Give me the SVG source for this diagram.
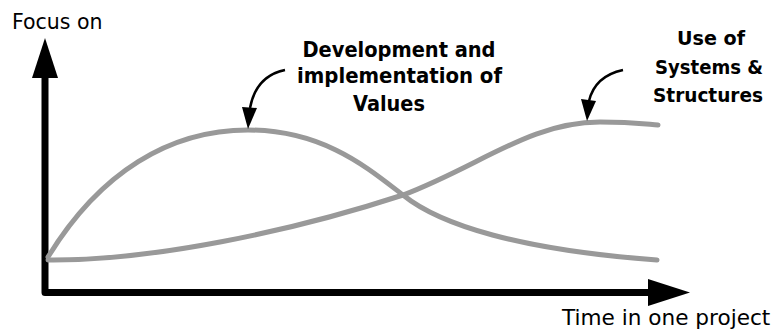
<svg xmlns="http://www.w3.org/2000/svg" width="774" height="330" viewBox="0 0 774 330">
<style>
.axis{fill:none;stroke:#000;stroke-width:7;stroke-linejoin:round}
.head{fill:#000}
.curve{fill:none;stroke:#999;stroke-width:5;stroke-linecap:round}
.pointer{fill:none;stroke:#000;stroke-width:2.5}
.lbl{font-family:"DejaVu Sans",sans-serif;fill:#000}
.bold{font-family:"DejaVu Sans",sans-serif;font-weight:bold;font-size:20.8px;fill:#000;text-anchor:middle}
.bold.r{font-size:19.4px}
</style>
<rect width="774" height="330" fill="#fff"/>
<g id="axes">
<polyline class="axis" points="45,76 45,292.5 650,292.5"/>
<polygon class="head" points="45,38 32,78 58,78"/>
<polygon class="head" points="690,292.5 648,279 648,306"/>
</g>
<g id="axis-labels">
<text class="lbl" x="12" y="29" font-size="20.5">Focus on</text>
<text class="lbl" x="562" y="325" font-size="21.6">Time in one project</text>
</g>
<g id="connectors">
<path id="curve-values" class="curve" d="M48,257 C100,172 170,130 248,130 C325,130 370,170 403,195 C440,225 520,250 657,260"/>
<path id="curve-systems" class="curve" d="M48,260 C150,261 290,232 403,195 C480,166 530,122 600,122 C630,122 645,124 658,125"/>
<path class="pointer" d="M285,70 Q256,76 250,108"/>
<polygon class="head" points="248,129 242,107 257,108"/>
<path class="pointer" d="M623,70 Q595,76 589,101"/>
<polygon class="head" points="587,121 581,99 596,101"/>
</g>
<g id="node-values">
<text class="bold" x="399" y="56.5" textLength="193" lengthAdjust="spacingAndGlyphs">Development and</text>
<text class="bold" x="399.5" y="83" textLength="205" lengthAdjust="spacingAndGlyphs">implementation of</text>
<text class="bold" x="389" y="111" textLength="72" lengthAdjust="spacingAndGlyphs">Values</text>
</g>
<g id="node-systems">
<text class="bold r" x="711" y="45" textLength="68" lengthAdjust="spacingAndGlyphs">Use of</text>
<text class="bold r" x="709" y="74" textLength="108" lengthAdjust="spacingAndGlyphs">Systems &amp;</text>
<text class="bold r" x="708" y="102" textLength="110" lengthAdjust="spacingAndGlyphs">Structures</text>
</g>
</svg>
